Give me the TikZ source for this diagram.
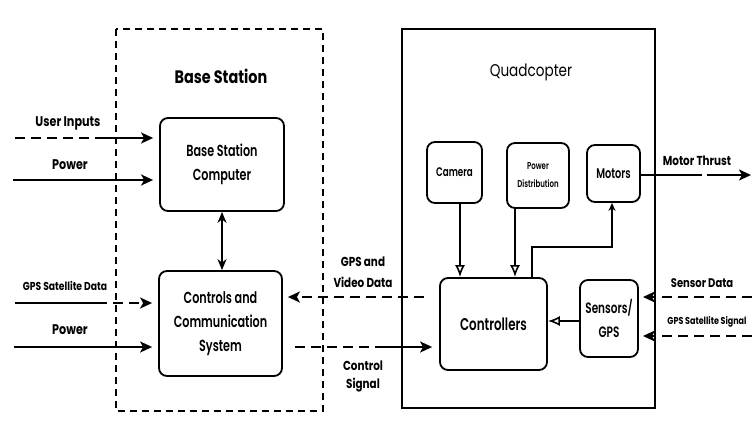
\documentclass[tikz,border=0pt]{standalone}
\usepackage{fontspec}
\setmainfont{Poppins}[FakeStretch=0.8]
\newfontfamily\medfont{Poppins}[FakeStretch=0.7,UprightFont=*-SemiBold,BoldFont=*-Bold]
\usetikzlibrary{arrows.meta,calc}
\begin{document}
\begin{tikzpicture}[x=1pt,y=-1pt,
  box/.style={draw, rounded corners=8pt, line width=1.8pt, align=center, inner sep=0pt},
  arr/.style={line width=2pt, -{Stealth[length=12pt,width=11pt,inset=3pt]}},
  oarr/.style={line width=2pt, -{Latex[open,length=12pt,width=10pt,line width=1.6pt]}},
  sarr/.style={line width=1.8pt, -{Stealth[length=8pt,width=7pt]}},
  dsh/.style={dash pattern=on 10pt off 6pt},
  lbl/.style={font=\bfseries, align=center, inner sep=0pt}]
\useasboundingbox (0,0) rectangle (752,432);
\fill[white] (0,0) rectangle (752,432);
% containers
\draw[line width=1.6pt, dash pattern=on 7pt off 5pt] (116,29) rectangle (323,411);
\draw[line width=2pt] (402,29) rectangle (655,408);
\node[lbl, font=\fontsize{18}{20}\selectfont\bfseries] (bst) at (221,76) {Base Station};
\node[lbl, font=\fontsize{17}{20}\selectfont] (qt) at (531,72) {Quadcopter};
% boxes
\node[box, minimum width=124pt, minimum height=93pt, font=\fontsize{16}{24}\medfont] (bsc) at (222,164.5) {Base Station\\Computer};
\node[box, minimum width=123pt, minimum height=105pt, font=\fontsize{16}{24}\medfont] (ccs) at (220.5,323.5) {Controls and\\Communication\\System};
\node[box, minimum width=55pt, minimum height=61pt, font=\fontsize{12.5}{15}\medfont] (cam) at (454.5,172.5) {Camera};
\node[box, minimum width=62pt, minimum height=65pt, font=\fontsize{10}{18}\medfont] (pd) at (538,175.5) {Power\\Distribution};
\node[box, minimum width=53pt, minimum height=57pt, font=\fontsize{14}{16}\medfont] (mot) at (613.5,173.5) {Motors};
\node[box, minimum width=107pt, minimum height=92pt, font=\fontsize{17}{20}\medfont] (ctrl) at (493.5,324) {Controllers};
\node[box, minimum width=58pt, minimum height=77pt, font=\fontsize{15}{24}\medfont] (sens) at (609,318.5) {Sensors/\\GPS};
% base station internal
\draw[line width=2pt, {Stealth[length=11pt,width=9pt]}-{Stealth[length=11pt,width=9pt]}] (bsc.south) -- (bsc.south |- ccs.north);
% left inputs
\coordinate (ui0) at (15,138); \coordinate (ui1) at (100,138);
\draw[line width=2pt, dsh] (ui0) -- (ui1);
\draw[arr, shorten >=6pt] (ui1) -- (bsc.west |- ui1);
\node[lbl, font=\fontsize{14}{16}\selectfont\bfseries] at (68,123) {User Inputs};
\coordinate (pw1) at (13,180);
\draw[arr, shorten >=6pt] (pw1) -- (bsc.west |- pw1);
\node[lbl, font=\fontsize{14}{16}\selectfont\bfseries] at (70,165) {Power};
\coordinate (gd0) at (15,303); \coordinate (gd1) at (97,303);
\draw[line width=2pt] (gd0) -- (gd1);
\draw[arr, dsh, shorten >=6pt] (gd1) -- (ccs.west |- gd1);
\node[lbl, font=\fontsize{11.5}{14}\selectfont\bfseries] at (65,286) {GPS Satellite Data};
\coordinate (pw2) at (14,347);
\draw[arr, shorten >=6pt] (pw2) -- (ccs.west |- pw2);
\node[lbl, font=\fontsize{14}{16}\selectfont\bfseries] at (70,330) {Power};
% middle links
\draw[arr, dsh, shorten <=15pt, shorten >=5pt] (ctrl.west |- 0,297) -- (ccs.east |- 0,297);
\node[lbl, font=\fontsize{13}{21}\selectfont\bfseries] at (363,272.5) {GPS and\\Video Data};
\coordinate (cs0) at (295,347); \coordinate (cs1) at (380,347);
\draw[line width=2pt, dsh] (cs0) -- (cs1);
\draw[arr, shorten >=7pt] (cs1) -- (ctrl.west |- cs1);
\node[lbl, font=\fontsize{13}{18}\selectfont\bfseries] at (363,376) {Control\\Signal};
% quadcopter internal
\draw[oarr] ([xshift=5.5pt]cam.south) -- ([xshift=5.5pt]cam.south |- ctrl.north);
\draw[oarr] ([xshift=-23pt]pd.south) -- ([xshift=-23pt]pd.south |- ctrl.north);
\draw[sarr] ([xshift=38.5pt]ctrl.north) |- ([xshift=-1.5pt]mot.south |- 0,247) -- ([xshift=-1.5pt]mot.south);
\draw[oarr] (sens.west |- 0,321) -- (ctrl.east |- 0,321);
% right side
\coordinate (mt0) at (702,175); \coordinate (mt1) at (707,175); \coordinate (mt2) at (751,175);
\draw[line width=1.5pt] (mot.east |- mt0) -- (mt0);
\draw[arr] (mt1) -- (mt2);
\node[lbl, font=\fontsize{13}{16}\selectfont\bfseries] at (697,161) {Motor Thrust};
\coordinate (sd0) at (752,297); \coordinate (sd1) at (643,297);
\draw[arr, dsh] (sd0) -- (sd1);
\node[lbl, font=\fontsize{12.5}{16}\selectfont\bfseries] at (702,283) {Sensor Data};
\coordinate (gs0) at (752,336); \coordinate (gs1) at (643,336);
\draw[arr, dsh] (gs0) -- (gs1);
\node[lbl, font=\fontsize{10}{12}\selectfont\bfseries] at (707,322) {GPS Satellite Signal};
\end{tikzpicture}
\end{document}
